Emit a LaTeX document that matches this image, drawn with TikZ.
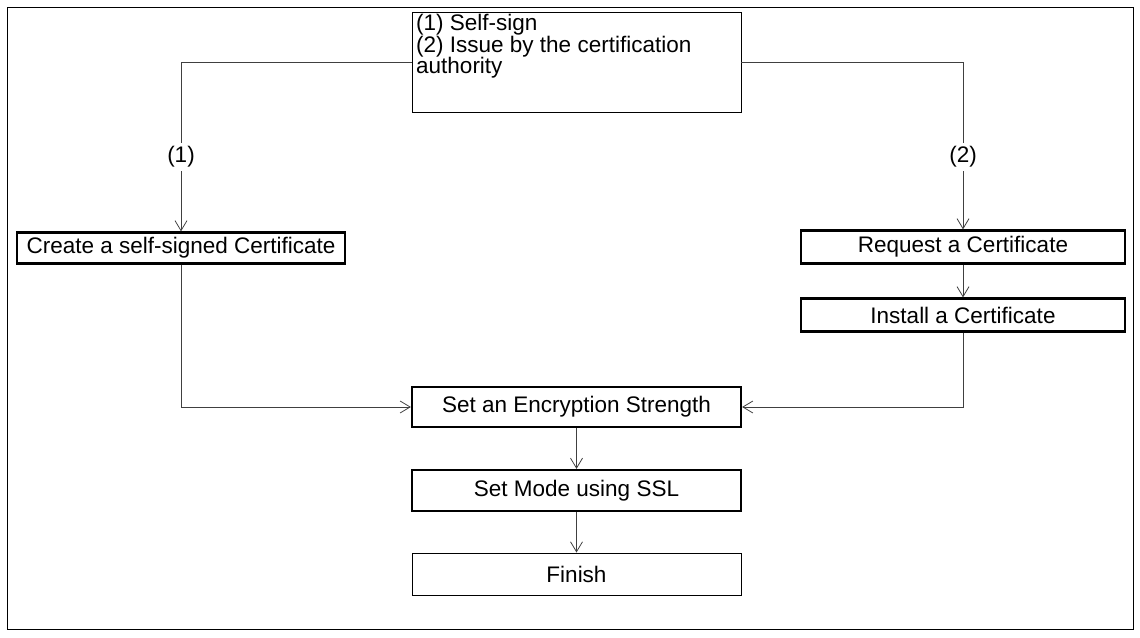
\documentclass[tikz,border=0pt]{standalone}
\usepackage{fontspec}
\setmainfont{Liberation Sans}
\usetikzlibrary{arrows.meta}
\begin{document}
\begin{tikzpicture}[x=1pt,y=-1pt,
  font=\fontsize{22.5}{21.5}\selectfont,
  box/.style={draw=black,line width=0.9pt,rectangle,inner sep=0pt},
  act/.style={draw=black,line width=2.2pt,rectangle,inner sep=0pt},
  ln/.style={draw=black!75,line width=0.8pt},
  ar/.style={ln,-{Straight Barb[length=10pt,width=12pt,line width=0.8pt]}}]
\useasboundingbox (0,0) rectangle (1140,637);
\draw[line width=0.9pt] (7,7) rectangle (1133,629);
\node[box,minimum width=329pt,minimum height=100pt] (top) at (576.5,62) {};
\node[anchor=north west,align=left,inner sep=0pt] (toptext) at (416,14) {(1) Self-sign\\(2) Issue by the certification\\authority};
\node[act,minimum width=328pt,minimum height=31pt] (self) at (181,248) {Create a self-signed Certificate};
\node[act,minimum width=324pt,minimum height=33pt] (req) at (963,247) {Request a Certificate};
\node[act,minimum width=324pt,minimum height=33pt] (inst) at (963,315) {Install a Certificate};
\node[act,minimum width=329pt,minimum height=40pt] (enc) at (576.5,407) {Set an Encryption Strength};
\node[act,minimum width=329pt,minimum height=41pt] (mode) at (576.5,490.5) {Set Mode using SSL};
\node[box,minimum width=329pt,minimum height=42pt] (fin) at (576.5,574) {Finish};
\coordinate (l1) at (181,62);
\coordinate (r1) at (963,62);
\coordinate (l2) at (181,407);
\coordinate (r2) at (963,407);
\node (lab1) at (181,157) {(1)};
\node (lab2) at (963,157) {(2)};
\draw[ln] (top.west) -- (l1) -- (lab1.north);
\draw[ar] (lab1.south) -- (self.north);
\draw[ln] (top.east) -- (r1) -- (lab2.north);
\draw[ar] (lab2.south) -- (req.north);
\draw[ar] (req.south) -- (inst.north);
\draw[ar] (self.south) -- (l2) -- (enc.west);
\draw[ar] (inst.south) -- (r2) -- (enc.east);
\draw[ar] (enc.south) -- (mode.north);
\draw[ar] (mode.south) -- (fin.north);
\end{tikzpicture}
\end{document}
